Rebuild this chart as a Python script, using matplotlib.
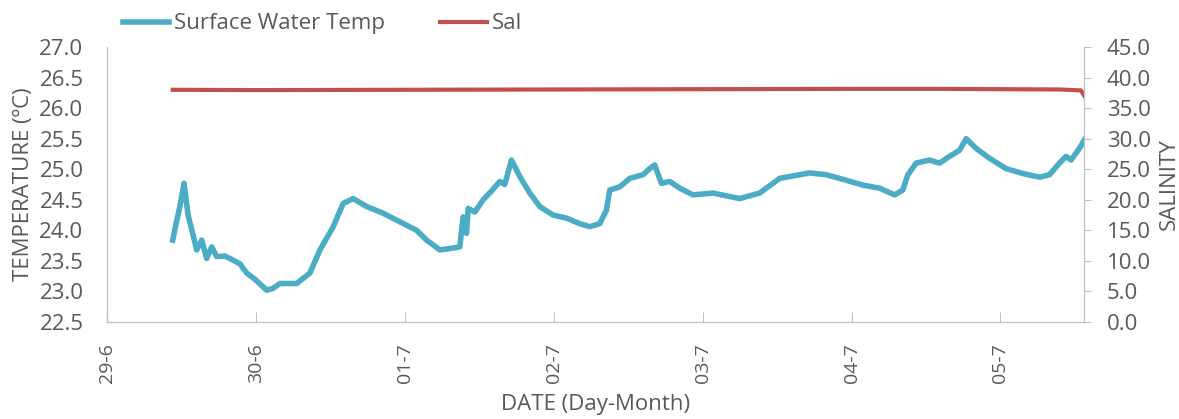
import matplotlib
matplotlib.use("Agg")
import matplotlib.pyplot as plt

plt.rcParams['font.family'] = ['Open Sans', 'DejaVu Sans']

# time in days since 29-6 00:00
temp_days = [0.441, 0.463, 0.490, 0.517, 0.544, 0.570, 0.602, 0.636, 0.669, 0.703,
             0.736, 0.792, 0.848, 0.893, 0.938, 0.993, 1.072, 1.114, 1.161, 1.273,
             1.362, 1.430, 1.519, 1.586, 1.653, 1.743, 1.854, 1.966, 2.079, 2.146,
             2.235, 2.324, 2.369, 2.391, 2.414, 2.425, 2.470, 2.526, 2.584, 2.638,
             2.671, 2.716, 2.772, 2.839, 2.906, 2.995, 3.085, 3.174, 3.242, 3.309,
             3.354, 3.376, 3.443, 3.510, 3.599, 3.644, 3.678, 3.723, 3.779, 3.846,
             3.935, 4.069, 4.248, 4.383, 4.517, 4.606, 4.718, 4.830, 4.964, 5.076,
             5.188, 5.289, 5.344, 5.378, 5.434, 5.523, 5.591, 5.658, 5.725, 5.770,
             5.837, 5.926, 6.038, 6.150, 6.262, 6.329, 6.396, 6.441, 6.474, 6.530,
             6.564]
temp = [23.84, 24.10, 24.40, 24.77, 24.25, 24.00, 23.68, 23.84, 23.54, 23.73,
        23.57, 23.58, 23.51, 23.45, 23.30, 23.20, 23.02, 23.05, 23.13, 23.13,
        23.30, 23.68, 24.06, 24.44, 24.52, 24.39, 24.28, 24.14, 24.00, 23.84,
        23.68, 23.71, 23.73, 24.22, 23.95, 24.36, 24.30, 24.50, 24.65, 24.80,
        24.75, 25.15, 24.88, 24.61, 24.39, 24.25, 24.20, 24.11, 24.06, 24.11,
        24.33, 24.66, 24.71, 24.85, 24.91, 25.01, 25.07, 24.77, 24.80, 24.69,
        24.58, 24.61, 24.52, 24.61, 24.85, 24.89, 24.94, 24.91, 24.82, 24.74,
        24.69, 24.58, 24.66, 24.91, 25.10, 25.15, 25.10, 25.21, 25.31, 25.50,
        25.34, 25.18, 25.01, 24.93, 24.87, 24.91, 25.10, 25.21, 25.15, 25.34,
        25.48]

sal_days = [0.441, 1.0, 2.0, 3.0, 4.0, 5.0, 5.6, 6.4, 6.54, 6.564]
sal = [38.0, 37.95, 38.0, 38.05, 38.1, 38.15, 38.15, 38.05, 37.9, 37.0]

tick_days = [0, 1, 2, 3, 4, 5, 6]
tick_labels = ['29-6', '30-6', '01-7', '02-7', '03-7', '04-7', '05-7']

txt = '#595959'
spine = '#BFBFBF'
fs = 16

fig = plt.figure(figsize=(11.79, 4.19), dpi=100)
ax = fig.add_axes([0.0908, 0.2315, 0.829, 0.6563])
ax2 = ax.twinx()

l1, = ax.plot(temp_days, temp, color='#4BACC6', lw=4.0, solid_joinstyle='round')
l2, = ax2.plot(sal_days, sal, color='#C0504D', lw=3.0)

ax.set_xlim(0, 6.564)
ax.set_ylim(22.5, 27.0)
ax.set_yticks([22.5 + 0.5 * i for i in range(10)])
ax.set_yticklabels(['%.1f' % (22.5 + 0.5 * i) for i in range(10)])
ax2.set_ylim(0, 45)
ax2.set_yticks([5 * i for i in range(10)])
ax2.set_yticklabels(['%.1f' % (5 * i) for i in range(10)])

ax.set_xticks(tick_days)
ax.set_xticklabels(tick_labels, rotation=90)

for a in (ax, ax2):
    for s in a.spines.values():
        s.set_color(spine)
    a.spines['top'].set_visible(False)
ax.tick_params(axis='x', direction='in', length=7, color=spine, labelsize=14, labelcolor=txt, pad=15)
ax.tick_params(axis='y', length=0, labelsize=fs, labelcolor=txt, pad=17)
ax2.tick_params(axis='y', direction='out', length=5, color=spine, labelsize=fs, labelcolor=txt, pad=11)

ax.set_ylabel('TEMPERATURE (ºC)', fontsize=fs, color=txt, labelpad=4)
ax2.set_ylabel('SALINITY', fontsize=fs, color=txt, labelpad=6)
ax.set_xlabel('DATE (Day-Month)', fontsize=fs, color=txt, labelpad=8)

fig.legend([l1, l2], ['Surface Water Temp', 'Sal'], loc='center left',
           bbox_to_anchor=(0.104, 0.943), ncol=2, frameon=False,
           fontsize=fs, labelcolor=txt, handlelength=2.1, handletextpad=0.2,
           columnspacing=2.5, borderpad=0, borderaxespad=0)

fig.savefig('out.png', dpi=100)
